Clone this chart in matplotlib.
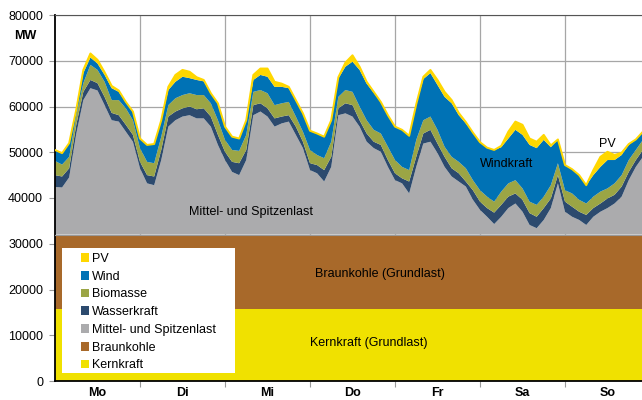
import numpy as np
import matplotlib
matplotlib.use("Agg")
import matplotlib.pyplot as plt
from matplotlib.patches import Patch, Rectangle

plt.rcParams["font.family"] = ["Liberation Sans", "DejaVu Sans"]
plt.rcParams["font.size"] = 9

# Stunden der Woche (2-Stunden-Raster)
stunden = np.arange(0, 167, 2)
tage = ["Mo", "Di", "Mi", "Do", "Fr", "Sa", "So"]

kernkraft = np.full(len(stunden), 15800)
braunkohle = np.full(len(stunden), 16200)

mittel_spitze = [10400, 10300, 12500, 22000, 29400, 32000, 31500, 28300, 25000, 24700, 22500, 20300,
                 14500, 11200, 10800, 16300, 23600, 25000, 25800, 26100, 25400, 25400, 23600, 19600,
                 16300, 13700, 13000, 16300, 26100, 26900, 25800, 23600, 24300, 24700, 21800, 18900,
                 14100, 13400, 11600, 14800, 26100, 26500, 25800, 23600, 20300, 18900, 18100, 14800,
                 11900, 11200, 9000, 14800, 19900, 20300, 17800, 14800, 12700, 11600, 10500, 7600,
                 5400, 3900, 2300, 3900, 5800, 6800, 5000, 2100, 1400, 3200, 5800, 11200,
                 5000, 3900, 3200, 2100, 3900, 5000, 5800, 6800, 8300, 11900, 14800, 17000]

wasserkraft = [2600, 2400, 2000, 2000, 1800, 1800, 1600, 1800, 1600, 1400, 1500, 1500,
               1400, 1800, 1900, 2200, 2200, 1900, 1800, 1900, 2000, 2200, 2200, 2200,
               1800, 2200, 2600, 2200, 2200, 1800, 1800, 1800, 1500, 1400, 1800, 1400,
               1500, 1800, 2500, 2200, 1500, 2200, 2500, 1400, 1800, 1400, 1500, 1500,
               1500, 1100, 2600, 2200, 2200, 2600, 2100, 2200, 1800, 1800, 1100, 2100,
               1800, 1900, 2500, 2600, 2500, 2200, 2600, 2600, 2500, 2600, 2100, 1800,
               2200, 2200, 1800, 2200, 1900, 1800, 2100, 1900, 2200, 1800, 1500, 1500]

biomasse = [3100, 2600, 2500, 2000, 1900, 3300, 2900, 3300, 2800, 3300, 3600, 3200,
            3000, 2900, 2900, 2900, 2500, 2900, 2900, 2900, 3100, 2900, 2900, 3200,
            2600, 2600, 2700, 3300, 2900, 2900, 3300, 2900, 2900, 2900, 2200, 2200,
            2900, 2200, 2600, 3300, 2500, 2900, 2900, 3000, 2900, 2600, 2500, 2900,
            2900, 2500, 2500, 3700, 2900, 2900, 3000, 2200, 2500, 2500, 2900, 2200,
            2500, 2500, 2400, 2900, 2900, 2900, 2500, 2500, 2600, 2500, 2900, 2600,
            2500, 2900, 2600, 2500, 2500, 2600, 2200, 2500, 2500, 2600, 2200, 2200]

wind = [2400, 2500, 3000, 1300, 2200, 1600, 1400, 1500, 2600, 1800, 1400, 1900,
        2100, 3700, 4200, 3600, 3300, 3600, 4000, 3300, 3300, 3000, 2200, 3700,
        2900, 2900, 2700, 3200, 2600, 3300, 3600, 4000, 3600, 3000, 3600, 4000,
        4200, 4700, 4700, 4700, 4000, 5100, 6600, 8000, 8000, 8100, 6900, 6900,
        7300, 8100, 7500, 7800, 9000, 9500, 9800, 10900, 11700, 10200, 9800, 10400,
        10500, 10700, 11300, 9700, 9800, 11000, 11700, 12400, 12400, 12400, 8300, 5200,
        5500, 5300, 5400, 4000, 4700, 5400, 6200, 5100, 4400, 3300, 2300, 1800]

pv = [0, 0, 0, 0, 700, 900, 800, 600, 500, 300, 0, 0,
      0, 0, 0, 0, 700, 1500, 1500, 1400, 600, 300, 0, 0,
      0, 0, 0, 0, 1100, 1400, 1800, 1100, 700, 300, 0, 0,
      0, 0, 0, 0, 300, 900, 1400, 700, 400, 200, 0, 0,
      0, 0, 0, 0, 500, 700, 1100, 1100, 700, 500, 300, 0,
      0, 0, 0, 300, 1500, 1800, 2200, 1400, 1400, 1100, 400, 0,
      0, 0, 0, 0, 1100, 2200, 1800, 1100, 500, 200, 0, 0]

labels = ["Kernkraft", "Braunkohle", "Mittel- und Spitzenlast", "Wasserkraft", "Biomasse", "Wind", "PV"]
farben = ["#F0E100", "#A8692A", "#ABABAD", "#2C4A6E", "#9BA545", "#0072B5", "#FFD700"]

fig = plt.figure(figsize=(6.42, 4.0), dpi=100)
ax = fig.add_axes([55 / 642, 19 / 400, 595 / 642, 366 / 400])

werte = [kernkraft, braunkohle, mittel_spitze, wasserkraft, biomasse, wind, pv]
ax.stackplot(stunden, *werte, colors=farben, zorder=2)
summe = np.sum(np.array(werte, dtype=float), axis=0)
ax.plot(stunden, summe, color="#FFD700", lw=1.4, zorder=3)
ax.axhline(32000, color="#999999", lw=0.8, zorder=3)

ax.set_xlim(0, 168)
ax.set_ylim(0, 80000)
ax.set_yticks(np.arange(0, 80001, 10000))
ax.set_xticks(np.arange(24, 168, 24))
ax.set_xticklabels([])
ax.set_xticks(np.arange(12, 168, 24), minor=True)
ax.set_xticklabels(tage, minor=True, fontweight="bold")
ax.tick_params(axis="x", which="minor", length=0, pad=4)
ax.tick_params(axis="x", which="major", length=4, color="#999999")
ax.tick_params(axis="y", length=4, color="#999999", pad=4.6)
ax.grid(True, color="#A6A6A6", lw=0.9, zorder=0)
ax.set_axisbelow(True)
for s in ["left", "bottom"]:
    ax.spines[s].set_color("black")
    ax.spines[s].set_linewidth(1.3)
ax.spines["top"].set_color("#555555")
ax.spines["right"].set_visible(False)

fig.text(25 / 642, 1 - 36 / 400, "MW", fontweight="bold", ha="center", va="center")

# Beschriftungen im Diagramm
ax.text(55.3, 36900, "Mittel- und Spitzenlast", ha="center", va="center", zorder=4)
ax.text(91.8, 23400, "Braunkohle (Grundlast)", ha="center", va="center", zorder=4)
ax.text(88.7, 8300, "Kernkraft (Grundlast)", ha="center", va="center", zorder=4)
ax.text(127.6, 47400, "Windkraft", ha="center", va="center", zorder=4)
ax.text(155.9, 51800, "PV", ha="center", va="center", zorder=4)

# Legende mit weißem Kasten
ax.add_patch(Rectangle((0.0118, 0.0219), 0.2907, 0.3415, transform=ax.transAxes,
                       facecolor="white", edgecolor="none", zorder=5))
handles = [Patch(facecolor=farben[i], edgecolor="none", label=labels[i]) for i in range(6, -1, -1)]
leg = ax.legend(handles=handles, loc="upper left", bbox_to_anchor=(0.043, 0.35),
                frameon=False, borderpad=0, borderaxespad=0, handlelength=0.7,
                handleheight=0.7, handletextpad=0.2, labelspacing=0.46)
leg.set_zorder(6)

fig.savefig("out.png", dpi=100)
